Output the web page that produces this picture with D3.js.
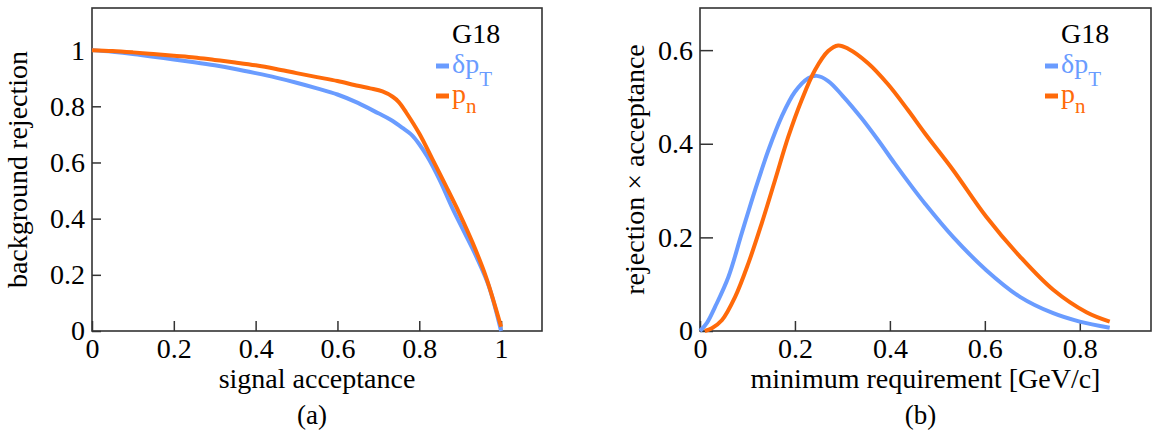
<!DOCTYPE html>
<html>
<head>
<meta charset="utf-8">
<script src="https://cdn.jsdelivr.net/npm/d3@7"></script>
<style>
  body { margin: 0; background: #fff; }
  svg { display: block; }
</style>
</head>
<body>
<div id="chart"></div>
<script>
// (a) background rejection vs signal acceptance
var rocDeltaPT = [
  [0, 1.0], [0.05, 0.994], [0.1, 0.986], [0.15, 0.976], [0.2, 0.967], [0.25, 0.957],
  [0.3, 0.946], [0.35, 0.933], [0.4, 0.918], [0.45, 0.902], [0.5, 0.884], [0.55, 0.864],
  [0.6, 0.842], [0.65, 0.812], [0.7, 0.775], [0.73, 0.752], [0.76, 0.722], [0.78, 0.700],
  [0.8, 0.665], [0.82, 0.620], [0.85, 0.537], [0.88, 0.440], [0.91, 0.352], [0.94, 0.263],
  [0.97, 0.160], [1.0, 0.0]
];
var rocPn = [
  [0, 1.0], [0.05, 0.997], [0.1, 0.992], [0.15, 0.986], [0.2, 0.980], [0.25, 0.974],
  [0.3, 0.965], [0.35, 0.956], [0.4, 0.946], [0.45, 0.933], [0.5, 0.918], [0.55, 0.904],
  [0.6, 0.890], [0.65, 0.873], [0.68, 0.864], [0.71, 0.853], [0.735, 0.834], [0.75, 0.815],
  [0.768, 0.778], [0.8, 0.703], [0.833, 0.609], [0.866, 0.514], [0.898, 0.419], [0.931, 0.312],
  [0.963, 0.193], [1.0, 0.015]
];

// (b) rejection x acceptance vs minimum requirement
var prodDeltaPT = [
  [0, 0], [0.015, 0.018], [0.032, 0.052], [0.06, 0.116], [0.088, 0.209], [0.116, 0.301],
  [0.144, 0.386], [0.172, 0.458], [0.2, 0.511], [0.228, 0.540], [0.246, 0.545], [0.27, 0.534],
  [0.3, 0.503], [0.34, 0.455], [0.375, 0.408], [0.41, 0.358], [0.445, 0.310], [0.474, 0.272],
  [0.533, 0.201], [0.603, 0.130], [0.674, 0.073], [0.744, 0.038], [0.8, 0.020], [0.863, 0.007]
];
var prodPn = [
  [0.01, 0], [0.025, 0.006], [0.046, 0.023], [0.074, 0.073], [0.102, 0.145], [0.13, 0.23],
  [0.158, 0.322], [0.186, 0.415], [0.214, 0.493], [0.242, 0.557], [0.27, 0.598], [0.291, 0.61],
  [0.312, 0.603], [0.354, 0.572], [0.396, 0.527], [0.438, 0.472], [0.474, 0.422], [0.533, 0.344],
  [0.603, 0.244], [0.674, 0.159], [0.744, 0.088], [0.814, 0.040], [0.863, 0.02]
];

var ticksA_x = [0, 0.2, 0.4, 0.6, 0.8, 1];
var ticksA_y = [0, 0.2, 0.4, 0.6, 0.8, 1];
var ticksB_x = [0, 0.2, 0.4, 0.6, 0.8];
var ticksB_y = [0, 0.2, 0.4, 0.6];

var blue = "#6a9cff",
    orange = "#ff6a0a";
var serif = "'Liberation Serif', 'Times New Roman', Times, 'DejaVu Serif', serif";

var svg = d3.select("#chart").append("svg")
    .attr("width", 1153)
    .attr("height", 434)
    .attr("font-family", serif);

var fmt = function (d) { return String(+d.toFixed(1)); };

function panel(opt) {
    var x = d3.scaleLinear().domain(opt.xDomain).range([opt.left, opt.right]);
    var y = d3.scaleLinear().domain(opt.yDomain).range([opt.bottom, opt.top]);

    var g = svg.append("g").attr("font-family", serif);

    g.append("g")
        .attr("transform", "translate(0," + opt.bottom + ")")
        .call(d3.axisBottom(x).tickValues(opt.xTicks).tickFormat(fmt)
            .tickSizeInner(-10).tickSizeOuter(0).tickPadding(7))
        .call(styleAxis);

    g.append("g")
        .attr("transform", "translate(" + opt.left + ",0)")
        .call(d3.axisLeft(y).tickValues(opt.yTicks).tickFormat(fmt)
            .tickSizeInner(-opt.yTick).tickSizeOuter(0).tickPadding(7))
        .call(styleAxis);

    g.append("rect")
        .attr("x", opt.left)
        .attr("y", opt.top)
        .attr("width", opt.right - opt.left)
        .attr("height", opt.bottom - opt.top)
        .attr("fill", "none")
        .attr("stroke", "#333")
        .attr("stroke-width", 1.6);

    var line = d3.line()
        .x(function (d) { return x(d[0]); })
        .y(function (d) { return y(d[1]); })
        .curve(d3.curveCatmullRom.alpha(0.5));

    opt.series.forEach(function (s) {
        g.append("path")
            .datum(s.data)
            .attr("d", line)
            .attr("fill", "none")
            .attr("stroke", s.color)
            .attr("stroke-width", 4)
            .attr("stroke-linejoin", "round");
    });

    // axis titles
    var cx = (opt.left + opt.right) / 2, cy = (opt.top + opt.bottom) / 2;
    g.append("text")
        .attr("x", cx).attr("y", 388)
        .attr("text-anchor", "middle")
        .attr("font-size", 28)
        .text(opt.xLabel);
    g.append("text")
        .attr("transform", "translate(" + opt.yLabelX + "," + cy + ") rotate(-90)")
        .attr("text-anchor", "middle")
        .attr("font-size", 28)
        .text(opt.yLabel);
    g.append("text")
        .attr("x", cx - 5).attr("y", 424)
        .attr("text-anchor", "middle")
        .attr("font-size", 27)
        .text(opt.caption);

    // legend
    var lx = opt.right - 90;
    g.append("text")
        .attr("x", lx).attr("y", 43)
        .attr("font-size", 28)
        .text("G18");
    var rows = [
        {color: blue, main: "δp", sub: "T", y: 73, dy: 13},
        {color: orange, main: "p", sub: "n", y: 103, dy: 10}
    ];
    rows.forEach(function (r) {
        g.append("line")
            .attr("x1", lx - 16).attr("x2", lx - 3)
            .attr("y1", r.y - 7).attr("y2", r.y - 7)
            .attr("stroke", r.color)
            .attr("stroke-width", 5);
        var t = g.append("text")
            .attr("x", lx).attr("y", r.y)
            .attr("fill", r.color)
            .attr("font-size", 28)
            .text(r.main);
        t.append("tspan")
            .attr("dy", r.dy)
            .attr("font-size", 21)
            .text(r.sub);
    });
}

function styleAxis(sel) {
    sel.attr("font-family", serif).attr("font-size", 28);
    sel.select(".domain").remove();
    sel.selectAll(".tick line").attr("stroke", "#333").attr("stroke-width", 1.5);
    sel.selectAll(".tick text").attr("fill", "#000");
}

panel({
    left: 92, right: 542, top: 8, bottom: 331,
    xDomain: [0, 1.1], yDomain: [0, 1.15],
    xTicks: ticksA_x, yTicks: ticksA_y, yTick: 9,
    xLabel: "signal acceptance",
    yLabel: "background rejection",
    yLabelX: 27,
    caption: "(a)",
    series: [
        {data: rocDeltaPT, color: blue},
        {data: rocPn, color: orange}
    ]
});

panel({
    left: 700, right: 1151, top: 8, bottom: 331,
    xDomain: [0, 0.95], yDomain: [0, 0.69],
    xTicks: ticksB_x, yTicks: ticksB_y, yTick: 13,
    xLabel: "minimum requirement [GeV/c]",
    yLabel: "rejection × acceptance",
    yLabelX: 644,
    caption: "(b)",
    series: [
        {data: prodDeltaPT, color: blue},
        {data: prodPn, color: orange}
    ]
});
</script>
</body>
</html>
